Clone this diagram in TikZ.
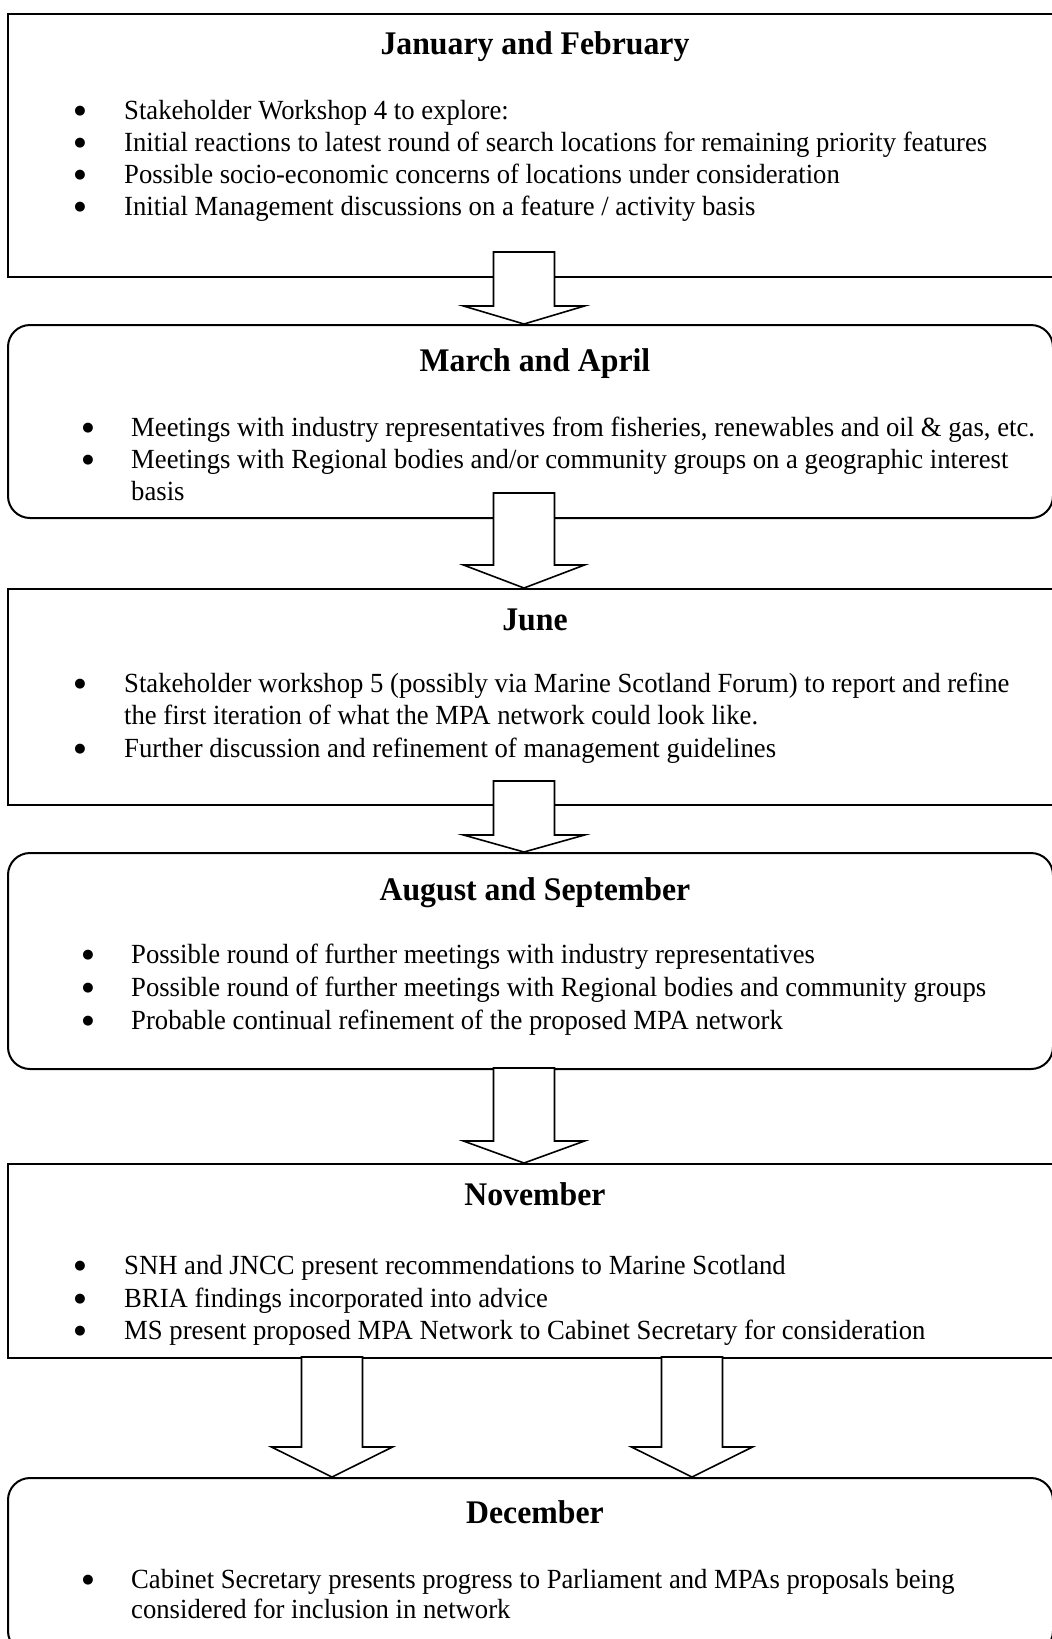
\documentclass[tikz,border=0pt]{standalone}
\usepackage{fontspec}
\setmainfont{Liberation Serif}[FakeStretch=0.963]
\newfontfamily\bulfont{DejaVu Sans}
\begin{document}
\begin{tikzpicture}[x=1pt,y=-1pt,
  box/.style={draw=black, line width=2pt, anchor=north west, inner sep=0pt, minimum width=1045pt},
  rbox/.style={box, rounded corners=22pt},
  ttl/.style={anchor=base, inner sep=0pt, font=\fontsize{33}{38}\selectfont\bfseries},
  txt/.style={anchor=base west, inner sep=0pt, font=\fontsize{27.7}{32.5}\selectfont},
  bul/.style={anchor=center, inner sep=0pt, yshift=8pt, font=\bulfont\fontsize{13}{14}\selectfont},
  blk/.style={draw=black, line width=1.6pt, fill=white, line join=miter}
]
\useasboundingbox (0,0) rectangle (1052,1639);

% boxes
\node[box,  minimum height=263.3pt] (b1) at (7,12.7) {};
\node[rbox, minimum height=193pt]   (b2) at (7,324) {};
\node[box,  minimum height=216pt]   (b3) at (7,588) {};
\node[rbox, minimum height=216pt]   (b4) at (7,852) {};
\node[box,  minimum height=194pt]   (b5) at (7,1163) {};
\node[rbox, minimum height=175pt]   (b6) at (7,1477) {};

% block arrows: #1 centre x, #2 top y, #3 head y, #4 target node
\newcommand{\blockarr}[4]{%
  \coordinate (tip) at (#1,0 |- #4.north);
  \draw[blk] (#1-30.5,#2) -- (#1+30.5,#2) -- (#1+30.5,#3) -- (#1+60.5,#3)
     -- (tip) -- (#1-60.5,#3) -- (#1-30.5,#3) -- cycle;}
\blockarr{524}{252}{306}{b2}
\blockarr{524}{493}{565}{b3}
\blockarr{524}{781}{835}{b4}
\blockarr{524}{1068}{1141}{b5}
\blockarr{332}{1357}{1447}{b6}
\blockarr{692}{1357}{1447}{b6}

% box 1
\node[ttl] (t1) at (535,54) {January and February};
\node[bul] (p11) at (80,119.5) {●};
\node[txt] (l11) at (124,119.5) {Stakeholder Workshop 4 to explore:};
\node[bul] (p12) at (80,151.5) {●};
\node[txt] (l12) at (124,151.5) {Initial reactions to latest round of search locations for remaining priority features};
\node[bul] (p13) at (80,183.5) {●};
\node[txt] (l13) at (124,183.5) {Possible socio-economic concerns of locations under consideration};
\node[bul] (p14) at (80,215.5) {●};
\node[txt] (l14) at (124,215.5) {Initial Management discussions on a feature / activity basis};

% box 2
\node[ttl] (t2) at (535,371) {March and April};
\node[bul] (p21) at (88,436) {●};
\node[txt] (l21) at (131,436) {Meetings with industry representatives from fisheries, renewables and oil \& gas, etc.};
\node[bul] (p22) at (88,468) {●};
\node[txt] (l22) at (131,468) {Meetings with Regional bodies and/or community groups on a geographic interest};
\node[txt] (l23) at (131,500) {basis};

% box 3
\node[ttl] (t3) at (535,630) {June};
\node[bul] (p31) at (80,692) {●};
\node[txt] (l31) at (124,692) {Stakeholder workshop 5 (possibly via Marine Scotland Forum) to report and refine};
\node[txt] (l32) at (124,724) {the first iteration of what the MPA network could look like.};
\node[bul] (p33) at (80,757) {●};
\node[txt] (l33) at (124,757) {Further discussion and refinement of management guidelines};

% box 4
\node[ttl] (t4) at (535,900) {August and September};
\node[bul] (p41) at (88,963) {●};
\node[txt] (l41) at (131,963) {Possible round of further meetings with industry representatives};
\node[bul] (p42) at (88,996) {●};
\node[txt] (l42) at (131,996) {Possible round of further meetings with Regional bodies and community groups};
\node[bul] (p43) at (88,1029) {●};
\node[txt] (l43) at (131,1029) {Probable continual refinement of the proposed MPA network};

% box 5
\node[ttl] (t5) at (535,1205) {November};
\node[bul] (p51) at (80,1274) {●};
\node[txt] (l51) at (124,1274) {SNH and JNCC present recommendations to Marine Scotland};
\node[bul] (p52) at (80,1307) {●};
\node[txt] (l52) at (124,1307) {BRIA findings incorporated into advice};
\node[bul] (p53) at (80,1339) {●};
\node[txt] (l53) at (124,1339) {MS present proposed MPA Network to Cabinet Secretary for consideration};

% box 6
\node[ttl] (t6) at (535,1523) {December};
\node[bul] (p61) at (88,1588) {●};
\node[txt] (l61) at (131,1588) {Cabinet Secretary presents progress to Parliament and MPAs proposals being};
\node[txt] (l62) at (131,1618) {considered for inclusion in network};
\end{tikzpicture}
\end{document}
